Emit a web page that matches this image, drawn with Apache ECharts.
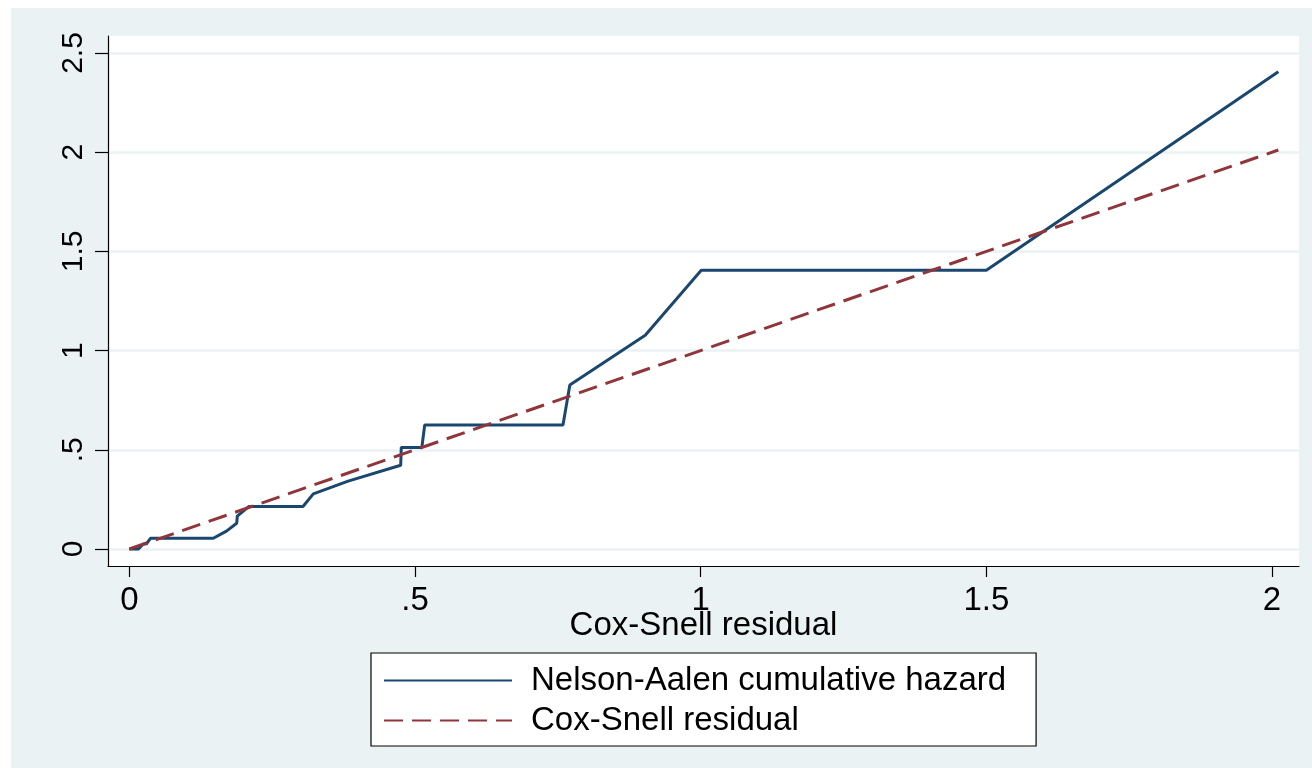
<!DOCTYPE html>
<html>
<head>
<meta charset="utf-8">
<script src="https://cdn.jsdelivr.net/npm/echarts@6/dist/echarts.min.js"></script>
<style>html,body{margin:0;padding:0;background:#fff}#c{width:1312px;height:768px}</style>
</head>
<body>
<div id="c"></div>
<script>
// ---- data ----
const xTicks = [0, 0.5, 1, 1.5, 2];
const yTicks = [0, 0.5, 1, 1.5, 2, 2.5];
const nelsonX = [0, 0.016, 0.024, 0.03, 0.037, 0.147, 0.170, 0.188, 0.189, 0.209, 0.304, 0.322, 0.383, 0.475, 0.476, 0.512, 0.517, 0.759, 0.771, 0.903, 1.001, 1.5, 2.011];
const nelsonY = [0, 0, 0.024, 0.026, 0.054, 0.054, 0.090, 0.130, 0.166, 0.214, 0.214, 0.278, 0.342, 0.422, 0.512, 0.512, 0.625, 0.625, 0.827, 1.077, 1.405, 1.405, 2.406];
const coxX = [0, 2.011];
const coxY = [0, 2.011];
const seriesNames = ['Nelson-Aalen cumulative hazard', 'Cox-Snell residual'];
const xName = 'Cox-Snell residual';

const fmt = v => (v === 0.5 ? '.5' : String(v));
const font = 'Liberation Sans, Arial, Helvetica, sans-serif';

const chart = echarts.init(document.getElementById('c'));
chart.setOption({
  backgroundColor: '#ffffff',
  animation: false,
  graphic: [{
    type: 'rect', z: -10, silent: true,
    shape: { x: 11, y: 8, width: 1301, height: 760 },
    style: { fill: '#eaf2f3' }
  }],
  grid: {
    left: 108, top: 36, right: 13, bottom: 202,
    show: true, backgroundColor: '#ffffff', borderWidth: 0
  },
  xAxis: {
    type: 'value', min: -0.0373, max: 2.0472,
    name: xName, nameLocation: 'middle', nameGap: 43, nameMoveOverlap: false,
    nameTextStyle: { fontSize: 33, color: '#000', fontFamily: font },
    axisLine: { show: true, onZero: false, lineStyle: { color: '#000', width: 1.2 } },
    axisTick: { show: true, length: 11, customValues: xTicks, lineStyle: { color: '#000', width: 1.2 } },
    axisLabel: { customValues: xTicks, formatter: fmt, fontSize: 33, color: '#000', fontFamily: font, margin: 18 },
    splitLine: { show: false }
  },
  yAxis: {
    type: 'value', min: -0.0857, max: 2.5857,
    axisLine: { show: true, onZero: false, lineStyle: { color: '#000', width: 1.2 } },
    axisTick: { show: true, length: 13, customValues: yTicks, lineStyle: { color: '#000', width: 1.2 } },
    axisLabel: { customValues: yTicks, formatter: fmt, rotate: 90, fontSize: 30, color: '#000', fontFamily: font, margin: 19 },
    splitLine: { show: true, lineStyle: { color: '#eaf2f3', width: 2.5 } }
  },
  legend: {
    orient: 'vertical', left: 371, top: 653,
    padding: [11, 30, 9, 12],
    backgroundColor: '#ffffff', borderColor: '#000', borderWidth: 1.2,
    itemWidth: 128, itemHeight: 30, itemGap: 7,
    itemStyle: { opacity: 0 },
    textStyle: { fontSize: 33, color: '#000', fontFamily: font, lineHeight: 30, padding: [0, 0, 0, 14] },
    data: seriesNames
  },
  series: [
    {
      name: seriesNames[0], type: 'line', symbol: 'none', z: 3,
      data: nelsonX.map((x, i) => [x, nelsonY[i]]),
      lineStyle: { color: '#1a476f', width: 3 },
      itemStyle: { color: '#1a476f' }
    },
    {
      name: seriesNames[1], type: 'line', symbol: 'none', z: 4,
      data: coxX.map((x, i) => [x, coxY[i]]),
      lineStyle: { color: '#90353b', width: 3, type: [19, 9] },
      itemStyle: { color: '#90353b' }
    }
  ]
});
</script>
</body>
</html>
